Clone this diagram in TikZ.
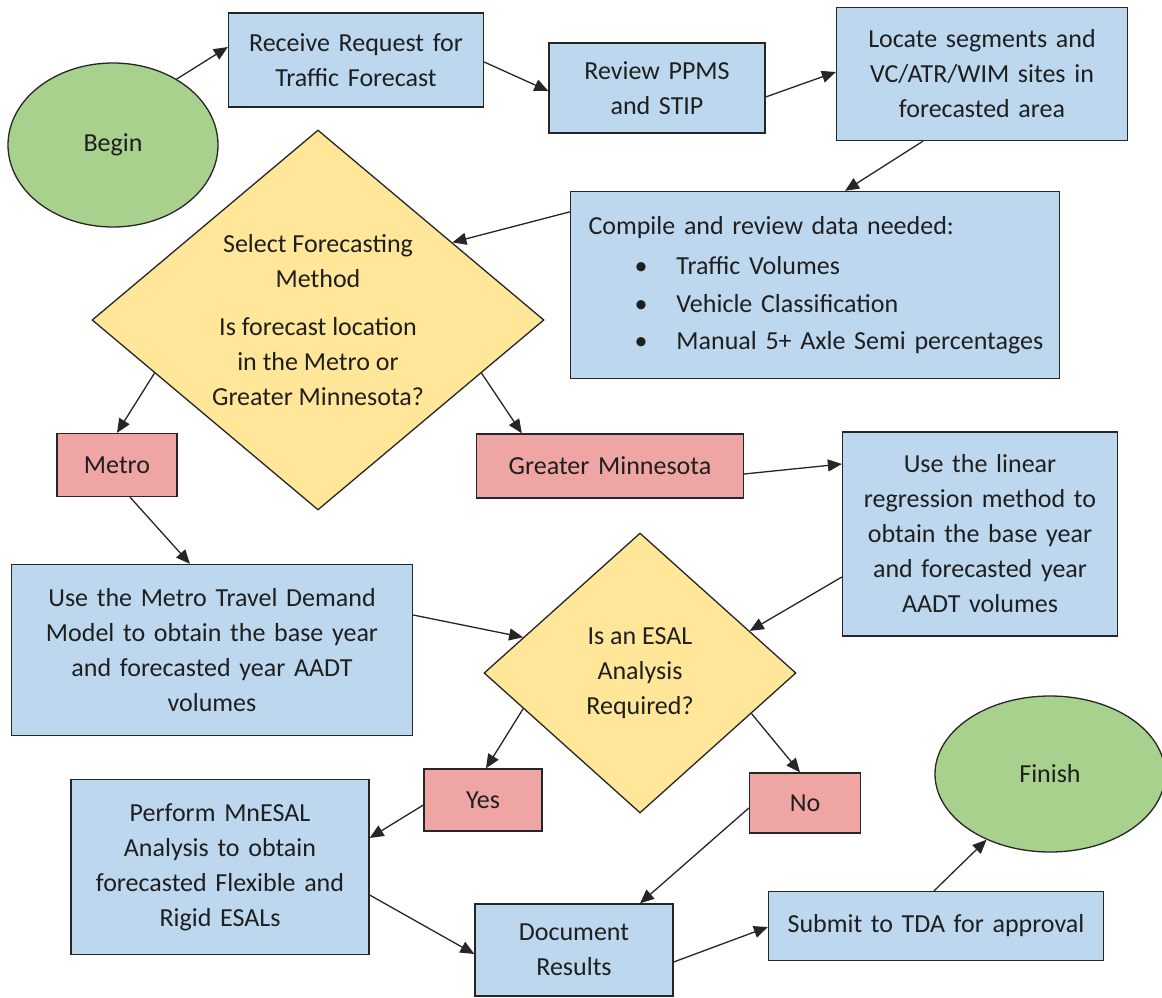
\documentclass[tikz,border=0pt]{standalone}
\usepackage{fontspec}
\setmainfont{Carlito}
\usetikzlibrary{shapes.geometric,arrows.meta,calc}
\definecolor{boxblue}{HTML}{BDD7EE}
\definecolor{boxred}{HTML}{F0A5A5}
\definecolor{boxyellow}{HTML}{FFE699}
\definecolor{boxgreen}{HTML}{A9D18E}
\definecolor{edge}{HTML}{262626}
\tikzset{
  base/.style={draw=edge, line width=1.3pt, font=\fontsize{26pt}{35pt}\selectfont, text=black!88, align=center, inner sep=0pt},
  bx/.style 2 args={base, rectangle, text width=#1pt, minimum width=#1pt, minimum height=#2pt},
  bluebox/.style 2 args={bx={#1}{#2}, fill=boxblue},
  redbox/.style 2 args={bx={#1}{#2}, fill=boxred},
  decision/.style 2 args={base, diamond, fill=boxyellow, minimum width=#1pt, minimum height=#2pt, aspect=1.19},
  terminal/.style 2 args={base, ellipse, fill=boxgreen, minimum width=#1pt, minimum height=#2pt},
  conn/.style={draw=edge, line width=1.3pt, -{Triangle[length=14pt,width=12pt]}},
}
\newcommand{\bulletline}[1]{\hspace*{46pt}\makebox[42pt][l]{\textbullet}\mbox{#1}}
\begin{document}
\begin{tikzpicture}[x=1pt,y=-1pt]
\useasboundingbox (0,0) rectangle (1162,998);
\fill[white] (0,0) rectangle (1162,998);

\node[terminal={210}{164}] (begin) at (113,145) {Begin};
\node[bluebox={255}{94}] (receive) at (356,60) {Receive Request for\\Traffic Forecast};
\node[bluebox={216}{90}] (review) at (657,88) {Review PPMS\\and STIP};
\node[bluebox={291}{133}] (locate) at (982,74) {Locate segments and\\VC/ATR/WIM sites in\\forecasted area};
\node[base, rectangle, fill=boxblue, text width=453pt, minimum width=489pt, minimum height=187pt, inner xsep=18pt, align=left, font=\fontsize{26pt}{37.5pt}\selectfont] (compile) at (815,285)
  {\mbox{Compile and review data needed:}\\[3pt]
   \bulletline{Traffic Volumes}\\
   \bulletline{Vehicle Classification}\\
   \bulletline{Manual 5+ Axle Semi percentages}};
\node[decision={452}{380}] (d1) at (318,320) {Select Forecasting\\Method\\[13pt]Is forecast location\\in the Metro or\\Greater Minnesota?};
\node[redbox={120}{63}] (metro) at (117,465) {Metro};
\node[redbox={267}{64}] (greater) at (610,466) {Greater Minnesota};
\node[bluebox={275}{204}] (linreg) at (980,534) {Use the linear\\regression method to\\obtain the base year\\and forecasted year\\AADT volumes};
\node[bluebox={401}{171}] (mtdm) at (212,650) {Use the Metro Travel Demand\\Model to obtain the base year\\and forecasted year AADT\\volumes};
\node[decision={312}{280}, aspect=1.11] (d2) at (640,673) {Is an ESAL\\Analysis\\Required?};
\node[redbox={118}{62}] (yes) at (483,800) {Yes};
\node[redbox={111}{60}] (no) at (805,803) {No};
\node[bluebox={298}{175}] (perform) at (220,867) {Perform MnESAL\\Analysis to obtain\\forecasted Flexible and\\Rigid ESALs};
\node[bluebox={198}{92}] (doc) at (574,950) {Document\\Results};
\node[bluebox={335}{69}] (submit) at (936,926) {Submit to TDA for approval};
\node[terminal={230}{156}] (finish) at (1050,774) {Finish};

\draw[conn] (begin.46) -- ([yshift=13pt]receive.west);
\draw[conn] ([yshift=-2pt]receive.east) -- ([yshift=-3pt]review.west);
\draw[conn] ([yshift=-9pt]review.east) -- ([yshift=2pt]locate.west);
\draw[conn] ([xshift=-59pt]locate.south) -- ([xshift=30pt]compile.north);
\draw[conn] ([yshift=-21pt]compile.north west) -- (d1.30);
\draw[conn] (d1.198) -- (metro.north);
\draw[conn] (d1.342) -- ([xshift=46pt]greater.north west);
\draw[conn] ([yshift=-8pt]greater.east) -- ([yshift=70pt]linreg.west);
\draw[conn] ([xshift=13pt]metro.south) -- ([xshift=-22pt]mtdm.north);
\draw[conn] ([yshift=-43pt]linreg.west) -- (d2.21);
\draw[conn] ([yshift=35pt]mtdm.east) -- (d2.163.5);
\draw[conn] (d2.197) -- ([xshift=3pt]yes.north);
\draw[conn] (d2.340) -- ([xshift=-5pt]no.north);
\draw[conn] ([yshift=-5pt]yes.west) -- ([yshift=29pt]perform.east);
\draw[conn] ([yshift=-5pt]no.west) -- ([xshift=66pt]doc.north);
\draw[conn] ([yshift=-28pt]perform.east) -- ([yshift=-4pt]doc.west);
\draw[conn] ([yshift=-12pt]doc.east) -- ([yshift=-1pt]submit.west);
\draw[conn] ([xshift=-2pt]submit.north) -- (finish.226);
\end{tikzpicture}
\end{document}
